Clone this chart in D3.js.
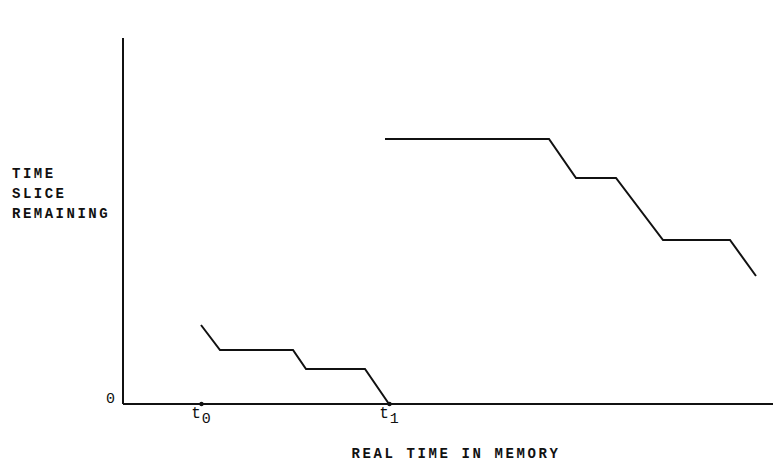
<!DOCTYPE html>
<html><head><meta charset="utf-8">
<script src="https://cdn.jsdelivr.net/npm/d3@7"></script>
<style>
html,body{margin:0;padding:0;background:#fff;}
text{font-family:"Liberation Mono","Courier New",monospace;fill:#111;font-weight:bold;}
.tick text{font-weight:normal;}
</style></head>
<body><svg id="c" width="773" height="464"></svg>
<script>
// Data (arbitrary time / time-slice units)
const xTickValues = [78, 266];
const xTickLabels = ["0", "1"]; // subscripts of t
const yTickValues = [0];
const yTickLabels = ["0"];
const series1X = [78, 97, 170, 183, 242, 266];
const series1Y = [79, 54, 54, 35, 35, 0];
const series2X = [262, 426, 453, 493, 540, 607, 633];
const series2Y = [265, 265, 226, 226, 164, 164, 128];
const yLabelLines = ["TIME", "SLICE", "REMAINING"];
const xTitle = "REAL TIME IN MEMORY";

const svg = d3.select("#c");
const x = d3.scaleLinear().domain([0, 650]).range([123, 773]);
const y = d3.scaleLinear().domain([0, 366]).range([404, 38]);

// axes
const xAxis = svg.append("g").attr("transform", `translate(0,${y(0)})`)
  .call(d3.axisBottom(x).tickValues(xTickValues).tickSize(0).tickPadding(10)
    .tickFormat((d,i)=>""));
xAxis.select(".domain").attr("d", `M${x(0)},0H${x(650)}`).attr("stroke","#111").attr("stroke-width",2);
xAxis.selectAll(".tick").each(function(d,i){
  const g = d3.select(this);
  g.append("circle").attr("r",2.2).attr("fill","#111");
  const t = g.select("text").attr("dy",null).attr("y",14).attr("font-size",16).attr("letter-spacing",1)
    .attr("text-anchor","middle");
  t.append("tspan").text("t");
  t.append("tspan").attr("dy",5).attr("font-size",15).text(xTickLabels[i]);
});

const yAxis = svg.append("g").attr("transform", `translate(${x(0)},0)`)
  .call(d3.axisLeft(y).tickValues(yTickValues).tickSize(0).tickPadding(8)
    .tickFormat((d,i)=>yTickLabels[i]));
yAxis.select(".domain").attr("d", `M0,${y(366)}V${y(0)}`).attr("stroke","#111").attr("stroke-width",2);
yAxis.selectAll(".tick text").attr("font-size",15).attr("dy","-0.1em");

// series
const line = d3.line().x(d=>x(d[0])).y(d=>y(d[1]));
[[series1X,series1Y],[series2X,series2Y]].forEach(([xs,ys])=>{
  svg.append("path").datum(xs.map((v,i)=>[v,ys[i]]))
    .attr("d", line).attr("fill","none").attr("stroke","#111")
    .attr("stroke-width",2).attr("stroke-linejoin","miter");
});

// labels
svg.append("g").selectAll("text").data(yLabelLines).join("text")
  .attr("x",12).attr("y",(d,i)=>178+i*20).attr("font-size",14)
  .attr("letter-spacing",2.5).text(d=>d);
svg.append("text").attr("x",456).attr("y",458).attr("text-anchor","middle")
  .attr("font-size",14).attr("letter-spacing",2.6).text(xTitle);
</script></body></html>
